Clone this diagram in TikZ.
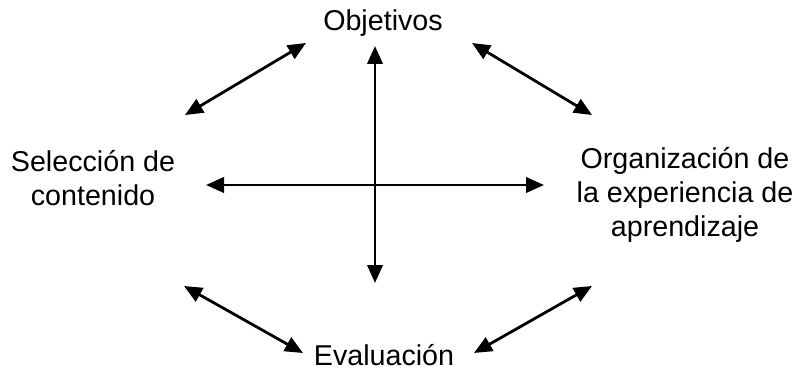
\documentclass[tikz,border=0pt]{standalone}
\usepackage{fontspec}
\setmainfont{Liberation Sans}
\usetikzlibrary{arrows.meta}
\begin{document}
\begin{tikzpicture}[x=0.75pt,y=-0.75pt,
  lbl/.style={font=\fontsize{21.5}{25.2}\selectfont, align=center, inner sep=0pt},
  tip/.tip={Triangle[length=13.5pt,width=11.5pt]},
  conn/.style={line width=2.1pt, tip-tip}]
\useasboundingbox (0,0) rectangle (805,374);
\node[lbl] (obj) at (383,23) {Objetivos};
\node[lbl] (sel) at (93,178) {Selección de\\contenido};
\node[lbl] (org) at (685,195) {Organización de\\la experiencia de\\aprendizaje};
\node[lbl] (eva) at (384,355) {Evaluación};
\coordinate (vt) at (375,46);
\coordinate (vb) at (375,283);
\coordinate (hl) at (206,185);
\coordinate (hr) at (544,185);
\coordinate (tl1) at (185,115);
\coordinate (tl2) at (306,43);
\coordinate (tr1) at (472,43);
\coordinate (tr2) at (592,115);
\coordinate (bl1) at (184,286);
\coordinate (bl2) at (303,353);
\coordinate (br1) at (474,353);
\coordinate (br2) at (592,286);
\draw[conn] (vt) -- (vb);
\draw[conn] (hl) -- (hr);
\draw[conn] (tl1) -- (tl2);
\draw[conn] (tr1) -- (tr2);
\draw[conn] (bl1) -- (bl2);
\draw[conn] (br1) -- (br2);
\end{tikzpicture}
\end{document}
